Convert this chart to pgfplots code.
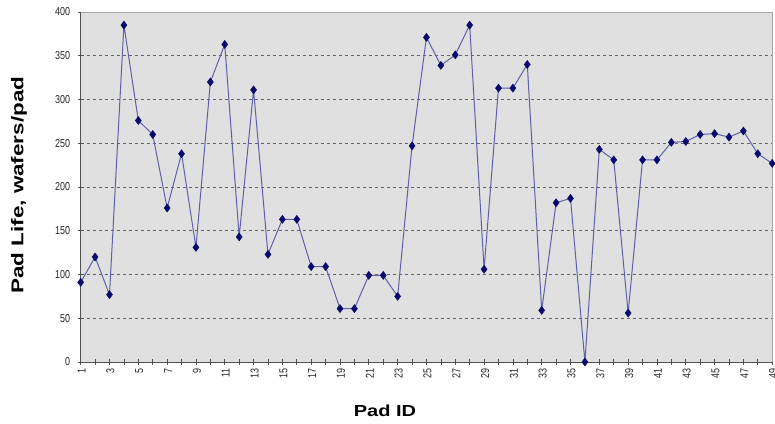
\documentclass[border=0pt]{standalone}
\usepackage{pgfplots}
\pgfplotsset{compat=1.18}
\usepackage{fontspec}
\setmainfont{Liberation Sans}
\newfontfamily\tickfont[FakeStretch=0.78]{Liberation Sans}
\newfontfamily\labfont[FakeStretch=1.25]{Liberation Sans}
\newfontfamily\ylabfont[FakeStretch=1.32]{Liberation Sans}
\definecolor{bg}{RGB}{224,224,224}
\definecolor{gridc}{RGB}{100,100,100}
\definecolor{linec}{RGB}{95,95,170}
\definecolor{markc}{RGB}{10,10,110}
\definecolor{axc}{RGB}{80,80,80}
\begin{document}
\begin{tikzpicture}
\begin{axis}[
  name=ax,
  scale only axis, width=691.5pt, height=350pt,
  xmin=1, xmax=49, ymin=0, ymax=400,
  axis background/.style={fill=bg},
  axis x line*=bottom, axis y line*=left,
  axis line style={axc, line width=0.8pt},
  xtick={1,3,...,49},
  minor xtick={2,4,...,48},
  ytick={0,50,...,400},
  tick align=center,
  major tick length=6pt,
  minor tick length=6pt,
  tick style={axc, line width=0.7pt},
  ymajorgrids,
  grid style={gridc, dash pattern=on 3pt off 3pt, line width=0.8pt},
  /pgf/number format/assume math mode=true,
  xticklabel style={rotate=90, anchor=east, font=\tickfont\fontsize{11.5}{12}\selectfont, text=black!85, yshift=-1pt},
  yticklabel style={font=\tickfont\fontsize{11.5}{12}\selectfont, text=black!85, xshift=-4pt},
  xlabel={Pad ID},
  ylabel={Pad Life, wafers/pad},
  every axis x label/.style={at={(axis description cs:0.44,-0.14)}, anchor=center, font=\labfont\bfseries\fontsize{16}{18}\selectfont},
  every axis y label/.style={at={(axis description cs:-0.0892,0.505)}, rotate=90, anchor=center, font=\ylabfont\bfseries\fontsize{17}{19}\selectfont},
  clip=false,
]
\draw[black!35, line width=0.8pt] (rel axis cs:0,1) -- (rel axis cs:1,1) -- (rel axis cs:1,0);
\addplot[linec, line width=1pt, mark=diamond*, mark size=4pt, mark options={markc, fill=markc, line width=0.5pt}] coordinates {
(1,91) (2,120) (3,77) (4,385) (5,276) (6,260) (7,176) (8,238) (9,131) (10,320)
(11,363) (12,143) (13,311) (14,123) (15,163) (16,163) (17,109) (18,109) (19,61) (20,61)
(21,99) (22,99) (23,75) (24,247) (25,371) (26,339) (27,351) (28,385) (29,106) (30,313)
(31,313) (32,340) (33,59) (34,182) (35,187) (36,0) (37,243) (38,231) (39,56) (40,231)
(41,231) (42,251) (43,252) (44,260) (45,261) (46,257) (47,264) (48,238) (49,227)
};
\end{axis}
\pgfresetboundingbox
\path[use as bounding box] (ax.south west) ++(-80.7pt,-61pt) rectangle ++(775pt,423pt);
\end{tikzpicture}
\end{document}
